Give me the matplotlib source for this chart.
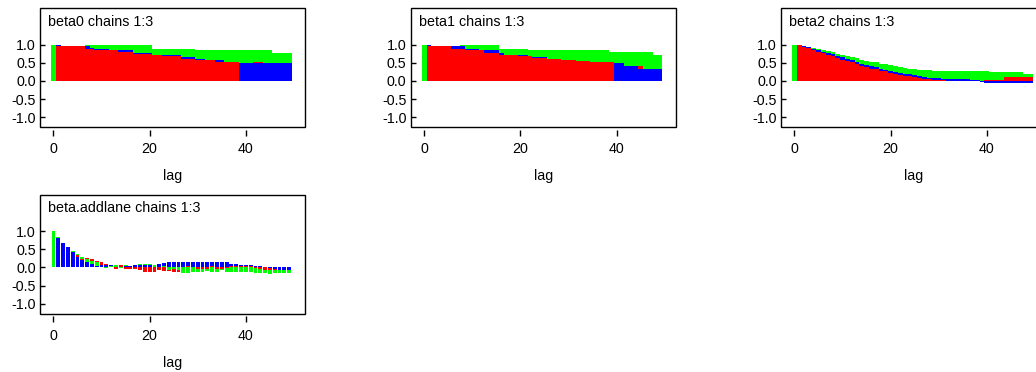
import matplotlib
matplotlib.use('Agg')
import matplotlib.pyplot as plt
from matplotlib.patches import Rectangle
import numpy as np

matplotlib.rcParams['font.family'] = 'Liberation Sans'
matplotlib.rcParams['axes.unicode_minus'] = False

# ---------------------------------------------------------------------------
# Data: autocorrelation per lag, 3 chains (green, blue, red)
# ---------------------------------------------------------------------------
lags = np.arange(50)
y_ticks = [-1.0, -0.5, 0.0, 0.5, 1.0]
y_ticklabels = ['-1.0', '-0.5', '0.0', '0.5', '1.0']
x_ticks = [0, 20, 40]

beta0_green = [1.0, 0.975, 0.975, 0.975, 0.975, 0.975, 0.975, 0.98, 0.98, 0.98,
               0.98, 0.98, 0.98, 0.98, 0.98, 0.98, 0.98, 0.98, 0.98, 0.98,
               0.98, 0.88, 0.88, 0.88, 0.88, 0.88, 0.88, 0.88, 0.88, 0.88,
               0.86, 0.86, 0.86, 0.86, 0.86, 0.86, 0.86, 0.86, 0.86, 0.86,
               0.86, 0.86, 0.86, 0.86, 0.86, 0.86, 0.77, 0.77, 0.77, 0.77]
beta0_blue = [1.0, 0.99, 0.975, 0.975, 0.975, 0.975, 0.975, 0.97, 0.895, 0.89,
              0.89, 0.89, 0.865, 0.865, 0.86, 0.86, 0.86, 0.78, 0.78, 0.78,
              0.78, 0.725, 0.725, 0.72, 0.72, 0.72, 0.72, 0.65, 0.65, 0.65,
              0.60, 0.60, 0.575, 0.575, 0.585, 0.585, 0.535, 0.535, 0.535, 0.49,
              0.49, 0.49, 0.49, 0.49, 0.49, 0.49, 0.49, 0.49, 0.49, 0.49]
beta0_red = [1.0, 0.97, 0.97, 0.97, 0.97, 0.97, 0.97, 0.89, 0.89, 0.86,
             0.86, 0.86, 0.86, 0.86, 0.80, 0.80, 0.80, 0.74, 0.74, 0.74,
             0.74, 0.72, 0.72, 0.68, 0.68, 0.68, 0.68, 0.61, 0.61, 0.61,
             0.585, 0.585, 0.57, 0.57, 0.53, 0.53, 0.53, 0.53, 0.53, 0.495,
             0.495, 0.495, 0.515, 0.515, 0.495, 0.495, 0.495, 0.495, 0.495, 0.495]

beta1_green = [1.0, 0.975, 0.975, 0.975, 0.975, 0.975, 0.975, 0.975, 0.98, 0.98,
               0.98, 0.98, 0.98, 0.98, 0.98, 0.98, 0.88, 0.88, 0.88, 0.88,
               0.88, 0.88, 0.86, 0.86, 0.86, 0.86, 0.86, 0.86, 0.86, 0.86,
               0.86, 0.86, 0.86, 0.86, 0.86, 0.86, 0.86, 0.86, 0.86, 0.79,
               0.79, 0.79, 0.79, 0.79, 0.79, 0.79, 0.79, 0.79, 0.72, 0.72]
beta1_blue = [1.0, 0.99, 0.975, 0.975, 0.975, 0.975, 0.97, 0.97, 0.97, 0.88,
              0.88, 0.88, 0.865, 0.86, 0.86, 0.86, 0.77, 0.725, 0.725, 0.725,
              0.72, 0.72, 0.685, 0.67, 0.67, 0.67, 0.605, 0.605, 0.605, 0.59,
              0.59, 0.575, 0.555, 0.555, 0.555, 0.52, 0.515, 0.515, 0.515, 0.515,
              0.49, 0.49, 0.40, 0.40, 0.40, 0.335, 0.335, 0.335, 0.335, 0.335]
beta1_red = [1.0, 0.97, 0.97, 0.97, 0.97, 0.97, 0.88, 0.88, 0.88, 0.86,
             0.86, 0.86, 0.86, 0.77, 0.77, 0.77, 0.72, 0.72, 0.72, 0.72,
             0.68, 0.68, 0.68, 0.63, 0.63, 0.63, 0.60, 0.60, 0.60, 0.57,
             0.57, 0.57, 0.54, 0.54, 0.54, 0.51, 0.51, 0.51, 0.51, 0.51,
             0.495, 0.495, 0.405, 0.405, 0.405, 0.40, 0.34, 0.34, 0.34, 0.34]

beta2_green = [1.0, 0.985, 0.96, 0.94, 0.92, 0.89, 0.86, 0.82, 0.79, 0.75,
               0.72, 0.69, 0.66, 0.62, 0.59, 0.56, 0.53, 0.51, 0.48, 0.46,
               0.44, 0.41, 0.38, 0.36, 0.34, 0.32, 0.31, 0.30, 0.29, 0.28,
               0.28, 0.28, 0.28, 0.28, 0.28, 0.28, 0.28, 0.28, 0.28, 0.28,
               0.28, 0.24, 0.24, 0.24, 0.24, 0.24, 0.24, 0.24, 0.20, 0.20]
beta2_blue = [1.0, 0.985, 0.95, 0.93, 0.89, 0.85, 0.81, 0.77, 0.73, 0.69,
              0.65, 0.61, 0.57, 0.52, 0.47, 0.43, 0.40, 0.37, 0.33, 0.31,
              0.28, 0.25, 0.22, 0.19, 0.18, 0.15, 0.13, 0.11, 0.09, 0.08,
              0.07, 0.06, 0.06, 0.05, 0.05, 0.04, 0.04, 0.03, 0.02, -0.03,
              -0.06, -0.07, -0.07, -0.07, -0.07, -0.07, -0.07, -0.07, -0.07, -0.07]
beta2_red = [1.0, 0.98, 0.94, 0.90, 0.86, 0.81, 0.77, 0.72, 0.68, 0.64,
             0.59, 0.55, 0.51, 0.46, 0.41, 0.37, 0.34, 0.32, 0.28, 0.26,
             0.22, 0.20, 0.17, 0.14, 0.13, 0.10, 0.08, 0.06, 0.04, 0.03,
             0.02, 0.015, 0.01, 0.01, 0.005, 0.0, 0.0, -0.01, -0.01, 0.0,
             0.03, 0.03, 0.03, 0.03, 0.10, 0.10, 0.10, 0.12, 0.12, 0.12]

addlane_green = [1.0, 0.83, 0.67, 0.56, 0.45, 0.38, 0.30, 0.22, 0.18, 0.15,
                 0.02, -0.02, 0.04, 0.07, -0.02, 0.06, 0.05, 0.02, 0.10, 0.10,
                 0.10, 0.08, 0.00, 0.03, -0.08, -0.04, -0.08, -0.15, -0.16, -0.12,
                 -0.12, -0.12, -0.10, -0.12, -0.12, -0.08, -0.12, -0.12, -0.12, -0.12,
                 -0.12, -0.12, -0.14, -0.14, -0.16, -0.17, -0.16, -0.16, -0.16, -0.16]
addlane_blue = [1.0, 0.82, 0.66, 0.55, 0.42, 0.30, 0.21, 0.15, 0.10, 0.05,
                0.07, 0.07, 0.06, 0.02, 0.00, 0.04, 0.03, 0.06, 0.06, 0.06,
                0.06, 0.02, 0.10, 0.12, 0.15, 0.16, 0.16, 0.16, 0.16, 0.16,
                0.16, 0.16, 0.16, 0.16, 0.16, 0.16, 0.16, 0.10, 0.09, 0.08,
                0.07, 0.06, 0.05, 0.04, 0.01, -0.02, -0.05, -0.06, -0.06, -0.06]
addlane_red = [1.0, 0.83, 0.67, 0.56, 0.43, 0.34, 0.22, 0.27, 0.23, 0.19,
               0.14, 0.10, 0.02, -0.03, 0.07, -0.03, -0.04, -0.05, -0.08, -0.12,
               -0.13, -0.13, -0.08, -0.10, -0.11, -0.12, -0.12, 0.02, 0.03, 0.02,
               -0.03, -0.04, -0.03, 0.03, -0.04, -0.03, -0.02, 0.04, 0.04, 0.05,
               0.03, 0.03, -0.02, -0.05, -0.06, -0.06, -0.07, -0.07, -0.07, -0.07]

chain_colors = ['#00FF00', '#0000FF', '#FF0000']
tie_priority = [2, 0, 1]   # on equal heights green ends up on top

FS = 10.3

# ---------------------------------------------------------------------------
# Helpers
# ---------------------------------------------------------------------------

def draw_acf(fig, rect, title, chains, width):
    ax = fig.add_axes(rect)
    conts = []
    for vals, col in zip(chains, chain_colors):
        conts.append(ax.bar(lags, vals, width=width, color=col, linewidth=0))
    # per lag: tallest bar drawn first, shorter ones on top
    for k in range(len(lags)):
        order = sorted(range(3), key=lambda c: (-abs(chains[c][k]), tie_priority[c]))
        for rank, c in enumerate(order):
            conts[c].patches[k].set_zorder(2 + 0.1 * rank)

    ax.set_xlim(-2.8, 52.3)
    ax.set_ylim(-1.27, 2.01)
    for s in ax.spines.values():
        s.set_visible(False)
    ax.spines['bottom'].set_position(('outward', 2))
    ax.add_patch(Rectangle((0, 0), 1, 1, transform=ax.transAxes, fill=False,
                           edgecolor='black', linewidth=1.0, clip_on=False, zorder=5))

    ax.set_yticks(y_ticks)
    ax.set_yticklabels(y_ticklabels)
    ax.set_xticks(x_ticks)
    ax.tick_params(axis='y', direction='in', length=3.6, width=1.0, pad=3, labelsize=FS)
    ax.tick_params(axis='x', direction='out', length=4.3, width=1.0, pad=4.5, labelsize=FS)
    ax.set_xlabel('lag', fontsize=FS, labelpad=9.5)
    ax.text(0.03, 0.945, title, transform=ax.transAxes, ha='left', va='top', fontsize=FS)
    return ax

# ---------------------------------------------------------------------------
# Figure
# ---------------------------------------------------------------------------
fig = plt.figure(figsize=(10.36, 3.72), dpi=100)
W, H = 1036.0, 372.0
pw, ph = 265.0 / W, 119.0 / H

draw_acf(fig, [40 / W, 1 - 127 / H, pw, ph], 'beta0 chains 1:3',
         [beta0_green, beta0_blue, beta0_red], 1.0)
draw_acf(fig, [410.7 / W, 1 - 127 / H, pw, ph], 'beta1 chains 1:3',
         [beta1_green, beta1_blue, beta1_red], 1.0)
draw_acf(fig, [781 / W, 1 - 127 / H, pw, ph], 'beta2 chains 1:3',
         [beta2_green, beta2_blue, beta2_red], 1.0)
draw_acf(fig, [40 / W, 1 - 313.5 / H, pw, ph], 'beta.addlane chains 1:3',
         [addlane_green, addlane_blue, addlane_red], 0.8)

fig.savefig('out.png', dpi=100, facecolor='white')
